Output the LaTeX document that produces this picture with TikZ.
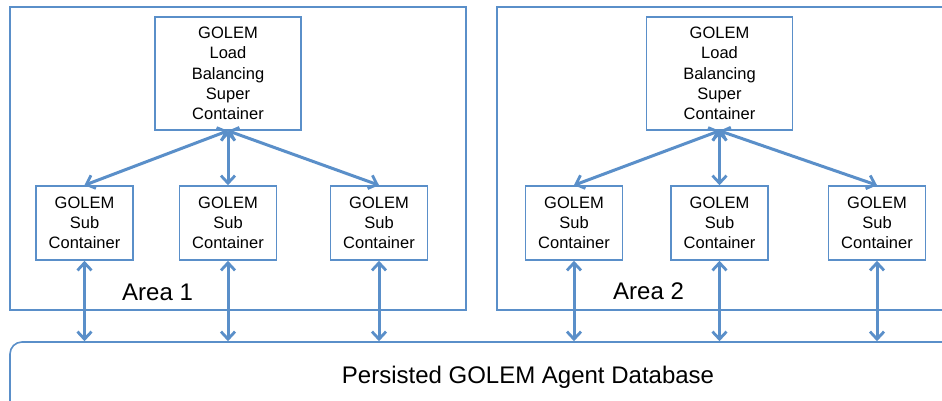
\documentclass[tikz,border=0pt]{standalone}
\usepackage{fontspec}
\setmainfont{Liberation Sans}
\usetikzlibrary{arrows.meta,shadows}
\definecolor{edgeblue}{RGB}{90,143,201}
\tikzset{barbtip/.tip={Straight Barb[length=7.5pt,width=14pt,line width=2.8pt]}}
\begin{document}
\begin{tikzpicture}[x=1pt,y=-1pt,
  softshadow/.style={drop shadow={shadow xshift=0.8pt,shadow yshift=-1.3pt,opacity=0.22,fill=black!70}},
  areabox/.style={draw=edgeblue,line width=1.6pt,fill=white,softshadow,inner sep=0pt},
  cbox/.style={draw=edgeblue,line width=1.6pt,fill=white,softshadow,inner sep=0pt,align=center,
    font=\fontsize{16.5}{20.3}\selectfont},
  subbox/.style={cbox,minimum width=97pt,minimum height=74pt},
  superbox/.style={cbox,minimum width=146pt,minimum height=113pt},
  link/.style={edgeblue,line width=3pt,barbtip-barbtip},
  biglabel/.style={inner sep=0pt,font=\fontsize{24}{28}\selectfont}]

\useasboundingbox (0,0) rectangle (942,400);
\clip (0,0) rectangle (942,400);
\fill[white] (0,0) rectangle (942,400);

% the two areas
\node[areabox,minimum width=456pt,minimum height=303pt] (area1) at (238,158.5) {};
\node[areabox,minimum width=463pt,minimum height=303pt] (area2) at (728.5,158.5) {};

% shared database
\node[draw=edgeblue,line width=1.6pt,fill=white,rounded corners=12pt,inner sep=0pt,
      minimum width=955pt,minimum height=98pt] (db) at (487.5,391) {};
\node[biglabel,anchor=base] (dbtext) at (528,383) {Persisted GOLEM Agent Database};

% area 1
\node[superbox] (sup1) at (228,73.5) {GOLEM\\Load\\Balancing\\Super\\Container};
\node[subbox] (s11) at (84.5,223) {GOLEM\\Sub\\Container};
\node[subbox] (s12) at (228,223) {GOLEM\\Sub\\Container};
\node[subbox] (s13) at (379,223) {GOLEM\\Sub\\Container};
\node[biglabel,anchor=base west] (lab1) at (122,300) {Area 1};

% area 2
\node[superbox] (sup2) at (719.5,73.5) {GOLEM\\Load\\Balancing\\Super\\Container};
\node[subbox] (s21) at (574,223) {GOLEM\\Sub\\Container};
\node[subbox] (s22) at (719.5,223) {GOLEM\\Sub\\Container};
\node[subbox] (s23) at (877,223) {GOLEM\\Sub\\Container};
\node[biglabel,anchor=base west] (lab2) at (613,299) {Area 2};

% links between super and sub containers
\foreach \s in {s11,s12,s13} \draw[link] (sup1.south) -- (\s.north);
\foreach \s in {s21,s22,s23} \draw[link] (sup2.south) -- (\s.north);

% links down to the database
\foreach \s in {s11,s12,s13,s21,s22,s23} \draw[link] (\s.south) -- (\s.south |- db.north);

\end{tikzpicture}
\end{document}
